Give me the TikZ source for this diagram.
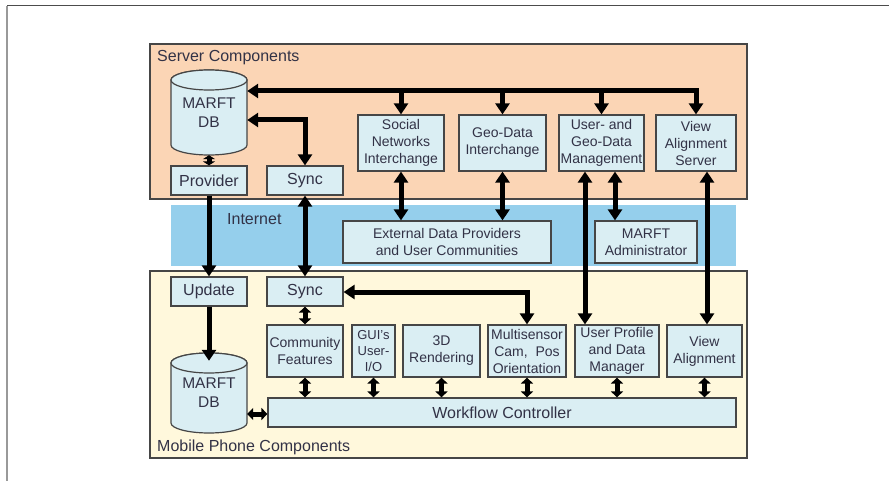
\documentclass[tikz,border=0pt]{standalone}
\usepackage{fontspec}
\setmainfont{Liberation Sans}
\usetikzlibrary{arrows.meta}
\definecolor{srvc}{RGB}{251,213,181}
\definecolor{netc}{RGB}{149,207,236}
\definecolor{mobc}{RGB}{255,248,220}
\definecolor{boxc}{RGB}{218,238,243}
\definecolor{bordc}{RGB}{70,70,70}
\definecolor{txtc}{RGB}{50,50,70}
\begin{document}
\begin{tikzpicture}[x=1pt,y=-1pt,
  panel/.style={draw=bordc, line width=1.5pt},
  box/.style={draw=bordc, fill=boxc, line width=1.2pt, inner sep=0pt, align=center, text=txtc, font=\fontsize{14}{17}\selectfont},
  onebox/.style={box, font=\fontsize{16}{19}\selectfont},
  dbtext/.style={inner sep=0pt, align=center, text=txtc, font=\fontsize{15.5}{19}\selectfont, minimum width=76pt, minimum height=85pt},
  cyl/.style={draw=bordc, fill=boxc, line width=1.2pt},
  title/.style={inner sep=0pt, anchor=base west, text=txtc, font=\fontsize{16}{19}\selectfont},
  big/.style={line width=5pt, >={Triangle[width=14pt,length=11pt]}},
  small/.style={line width=5pt, >={Triangle[width=12pt,length=6pt]}},
  tiny/.style={line width=5pt, >={Triangle[width=12pt,length=4pt]}}
]
\useasboundingbox (0,0) rectangle (889,481);
% frame
\draw[draw=black!40, line width=2pt] (7,6) -- (7,481);
\draw[draw=black!70, line width=1pt] (7,6) -- (889,6);
% panels
\draw[panel, fill=srvc] (150,44) rectangle (747,199);
\fill[netc] (171,205) rectangle (736,266);
\draw[panel, fill=mobc] (150,271) rectangle (747,458);
\node[title] (tsrv) at (157,61.5) {Server Components};
\node[title] (tnet) at (227,224.5) {Internet};
\node[title] (tmob) at (157,451.5) {Mobile Phone Components};
% server DB cylinder
\draw[cyl] (171,80) -- (171,145) arc (180:360:38pt and 10pt) -- (247,80) arc (0:180:38pt and 10pt) -- cycle;
\draw[cyl] (209,80) ellipse [x radius=38pt, y radius=10pt];
\node[dbtext] (sdb) at (209,112.5) {MARFT\\DB};
% mobile DB cylinder
\draw[cyl] (171,363) -- (171,423) arc (180:360:38pt and 10pt) -- (247,363) arc (0:180:38pt and 10pt) -- cycle;
\draw[cyl] (209,363) ellipse [x radius=38pt, y radius=10pt];
\node[dbtext, minimum height=80pt] (mdb) at (209,393) {MARFT\\DB};
% server boxes
\node[onebox, minimum width=76pt, minimum height=29pt] (sprov) at (209,180.5) {Provider};
\node[onebox, minimum width=76pt, minimum height=29pt] (ssync) at (305,180.5) {Sync};
\node[box, minimum width=86pt, minimum height=56pt] (sni) at (401,143) {Social\\Networks\\Interchange};
\node[box, minimum width=87pt, minimum height=56pt] (geo) at (502.5,143) {Geo-Data\\Interchange};
\node[box, minimum width=85pt, minimum height=56pt] (ugm) at (601.5,143) {User- and\\Geo-Data\\Management};
\node[box, minimum width=80pt, minimum height=56pt] (vas) at (696,143) {View\\Alignment\\Server};
% internet boxes
\node[box, minimum width=208pt, minimum height=42pt] (ext) at (447,242) {External Data Providers\\and User Communities};
\node[box, minimum width=102pt, minimum height=42pt] (adm) at (646,242) {MARFT\\Administrator};
% mobile boxes
\node[onebox, minimum width=76pt, minimum height=29pt] (upd) at (209,291.5) {Update};
\node[onebox, minimum width=76pt, minimum height=29pt] (msync) at (305,291.5) {Sync};
\node[box, minimum width=76pt, minimum height=52pt] (comm) at (305,351) {Community\\Features};
\node[box, minimum width=43pt, minimum height=52pt, font=\fontsize{13}{16}\selectfont] (gui) at (373.5,351) {GUI's\\User-\\I/O};
\node[box, minimum width=77pt, minimum height=52pt] (rend) at (441.5,351) {3D\\Rendering};
\node[box, minimum width=78pt, minimum height=52pt] (multi) at (527,351) {Multisensor\\Cam,~ Pos\\Orientation};
\node[box, minimum width=84pt, minimum height=52pt] (upm) at (617,351) {User Profile\\and Data\\Manager};
\node[box, minimum width=75pt, minimum height=52pt] (va) at (704.5,351) {View\\Alignment};
\node[onebox, minimum width=468pt, minimum height=29pt] (wfc) at (502,412.5) {Workflow Controller};
% helper coordinates
\coordinate (bus) at (0,91);
\coordinate (sy) at (0,120);
\coordinate (my) at (0,292);
\coordinate (wy) at (0,414);
% server connectors
\draw[big,<->] (vas.north) -- (vas.north |- bus) -- (sdb.east |- bus);
\draw[big,->] (sni.north |- bus) -- (sni.north);
\draw[big,->] (geo.north |- bus) -- (geo.north);
\draw[big,->] (ugm.north |- bus) -- (ugm.north);
\draw[big,<->] (ssync.north) -- (ssync.north |- sy) -- (sdb.east |- sy);
\draw[tiny,<->] (sdb.south) -- (sprov.north);
\draw[big,->] (sprov.south) -- (upd.north);
\draw[big,<->] (ssync.south) -- (msync.north);
\draw[big,<->] (sni.south) -- (sni.south |- ext.north);
\draw[big,<->] (geo.south) -- (geo.south |- ext.north);
\draw[big,<->] ([xshift=13.5pt]ugm.south) -- ([xshift=13.5pt]ugm.south |- adm.north);
\draw[big,<->] ([xshift=-16.5pt]ugm.south) -- ([xshift=-16.5pt]ugm.south |- upm.north);
\draw[big,<->] ([xshift=11pt]vas.south) -- ([xshift=11pt]vas.south |- va.north);
% mobile connectors
\draw[big,->] (upd.south) -- ([yshift=-8pt]mdb.north);
\draw[big,<->] (multi.north) -- (multi.north |- my) -- (msync.east |- my);
\draw[small,<->] (msync.south) -- (comm.north);
\draw[small,<->] (comm.south) -- (comm.south |- wfc.north);
\draw[small,<->] (gui.south) -- (gui.south |- wfc.north);
\draw[small,<->] (rend.south) -- (rend.south |- wfc.north);
\draw[small,<->] (multi.south) -- (multi.south |- wfc.north);
\draw[small,<->] (upm.south) -- (upm.south |- wfc.north);
\draw[small,<->] (va.south) -- (va.south |- wfc.north);
\draw[small,<->] (mdb.east |- wy) -- (wfc.west |- wy);
\end{tikzpicture}
\end{document}
